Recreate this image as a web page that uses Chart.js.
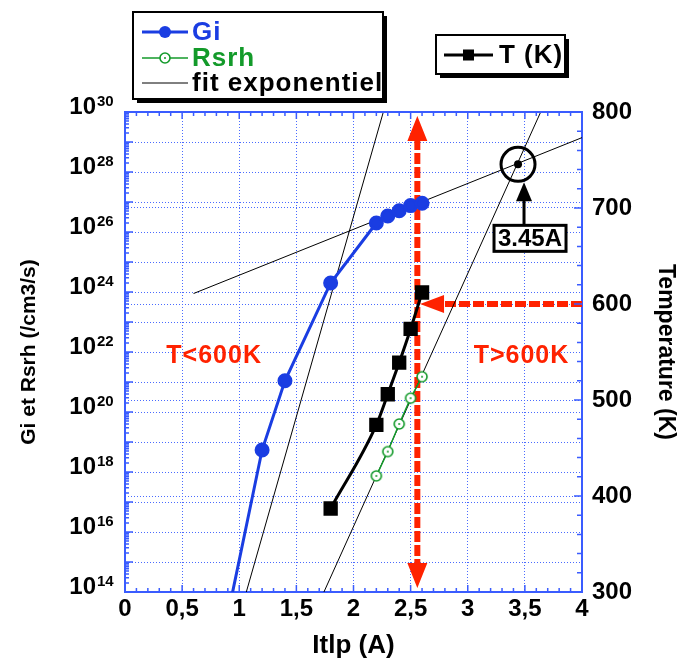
<!DOCTYPE html>
<html>
<head>
<meta charset="utf-8">
<script src="https://cdn.jsdelivr.net/npm/chart.js@4.4.1/dist/chart.umd.min.js"></script>
<style>
  html, body { margin: 0; padding: 0; background: #fff; }
</style>
</head>
<body>
<canvas id="chart" width="681" height="663"></canvas>
<script>
// ── data ─────────────────────────────────────────────────
const giX = [0.8, 1.2, 1.4, 1.8, 2.2, 2.3, 2.4, 2.5, 2.6];
const giY = [2.5e11, 5.4e18, 1.1e21, 2e24, 2e26, 3.4e26, 5.1e26, 7.6e26, 9.1e26];
const rsrhX = [2.2, 2.3, 2.4, 2.5, 2.6];
const rsrhY = [7.4e17, 4.8e18, 4e19, 2.9e20, 1.5e21];
const tempX = [1.8, 2.2, 2.3, 2.4, 2.5, 2.6];
const tempK = [387, 474, 506, 539, 574, 612];

// exponential fits (end points of each straight line on the log axis)
const fitLowX = [1.0, 2.3];
const fitLowY = [1.5e13, 3.3e30];
const fitHighX = [0.6, 4.0];
const fitHighY = [8.9e23, 1.4e29];
const fitRsrhX = [1.7, 3.7];
const fitRsrhY = [4.5e13, 3.3e30];

// annotations
const splitCurrent = 2.55;   // vertical red line
const splitTemp = 600;       // horizontal red arrow (K)
const arrowTipCurrent = 2.6;
const crossCurrent = 3.44;   // intersection of the two fits
const crossValue = 1.8e28;
const crossLabel = '3.45A';
const zoneLow = { x: 0.78, t: 546, text: 'T<600K' };
const zoneHigh = { x: 3.47, t: 546, text: 'T>600K' };

const xTickStep = 0.5;
const yDecades = [14, 15, 16, 17, 18, 19, 20, 21, 22, 23, 24, 25, 26, 27, 28, 29, 30];
const tempTicks = [300, 400, 500, 600, 700, 800];

const FONT = "'Liberation Sans', Arial, sans-serif";
const BLUE = '#1a3de2';
const GREEN = '#139a2a';
const RED = '#ff2200';
const GRID = '#4a6bff';
const FRAME = '#3a5cff';

const pts = (xs, ys) => xs.map((v, i) => ({ x: v, y: ys[i] }));

function ringDot(color) {
    const c = document.createElement('canvas');
    c.width = c.height = 14;
    const g = c.getContext('2d');
    g.fillStyle = '#fff'; g.strokeStyle = color; g.lineWidth = 1.6;
    g.beginPath(); g.arc(7, 7, 5, 0, Math.PI * 2); g.fill(); g.stroke();
    g.fillStyle = color;
    g.beginPath(); g.arc(7, 7, 1, 0, Math.PI * 2); g.fill();
    return c;
}
const rsrhPoint = ringDot(GREEN);

// exponents of the "10" labels on the log axis
const logExponents = {
    id: 'logExponents',
    afterDraw(chart) {
        const { ctx, scales: { y } } = chart;
        const right = y.right - y.options.ticks.padding;
        ctx.save();
        ctx.fillStyle = '#000';
        ctx.font = `bold 15px ${FONT}`;
        ctx.textAlign = 'left'; ctx.textBaseline = 'alphabetic';
        y.ticks.forEach(t => {
            const e = Math.round(Math.log10(t.value));
            if (e % 2) return;
            const py = y.getPixelForValue(t.value) + y.options.ticks.labelOffset;
            ctx.fillText(String(e), right + 1, py - 1);
        });
        ctx.restore();
    }
};

// inward ticks + top frame line
const frameTicks = {
    id: 'frameTicks',
    afterDraw(chart) {
        const { ctx, chartArea: a, scales: { x, y, y2 } } = chart;
        ctx.save();
        ctx.strokeStyle = FRAME;
        ctx.lineWidth = 1.5;
        ctx.beginPath();
        for (let i = 0; i <= 40; i++) {
            const px = x.getPixelForValue(i / 10);
            const len = i % 5 === 0 ? 7 : 4;
            ctx.moveTo(px, a.bottom); ctx.lineTo(px, a.bottom - len);
            ctx.moveTo(px, a.top); ctx.lineTo(px, a.top + len);
        }
        for (let e = 14; e < 30; e++) {
            for (let m = 1; m < 10; m++) {
                const py = y.getPixelForValue(m * Math.pow(10, e));
                ctx.moveTo(a.left, py); ctx.lineTo(a.left + (m === 1 ? 8 : 4), py);
            }
        }
        for (let t = 300; t <= 800; t += 20) {
            const py = y2.getPixelForValue(t);
            ctx.moveTo(a.right, py); ctx.lineTo(a.right - (t % 100 === 0 ? 8 : 5), py);
        }
        ctx.stroke();
        ctx.lineWidth = 2;
        ctx.beginPath(); ctx.moveTo(a.left - 1, a.top); ctx.lineTo(a.right + 1, a.top); ctx.stroke();
        ctx.restore();
    }
};

// red split line, arrow and zone texts
const redMarks = {
    id: 'redMarks',
    beforeDatasetsDraw(chart) {
        const { ctx, chartArea: a, scales: { x, y2 } } = chart;
        const px = x.getPixelForValue(splitCurrent) + 1;
        const py = y2.getPixelForValue(splitTemp);
        const tipX = x.getPixelForValue(arrowTipCurrent) - 2;
        ctx.save();
        ctx.strokeStyle = RED; ctx.fillStyle = RED;
        ctx.lineWidth = 6;
        ctx.setLineDash([11, 3]);
        ctx.beginPath(); ctx.moveTo(px, a.top + 27); ctx.lineTo(px, a.bottom - 26); ctx.stroke();
        ctx.beginPath(); ctx.moveTo(a.right, py); ctx.lineTo(tipX + 22, py); ctx.stroke();
        ctx.setLineDash([]);
        ctx.beginPath();
        ctx.moveTo(px, a.top + 4); ctx.lineTo(px + 10, a.top + 29); ctx.lineTo(px - 10, a.top + 29); ctx.closePath();
        ctx.moveTo(px, a.bottom - 4); ctx.lineTo(px + 10, a.bottom - 29); ctx.lineTo(px - 10, a.bottom - 29); ctx.closePath();
        ctx.moveTo(tipX, py); ctx.lineTo(tipX + 24, py - 9); ctx.lineTo(tipX + 24, py + 9); ctx.closePath();
        ctx.fill();
        ctx.font = `bold 25px ${FONT}`;
        ctx.letterSpacing = '1px';
        ctx.textAlign = 'center'; ctx.textBaseline = 'middle';
        [zoneLow, zoneHigh].forEach(z => ctx.fillText(z.text, x.getPixelForValue(z.x), y2.getPixelForValue(z.t)));
        ctx.restore();
    }
};

// circle on the fit intersection + boxed label
const crossCallout = {
    id: 'crossCallout',
    afterDatasetsDraw(chart) {
        const { ctx, scales: { x, y } } = chart;
        const cx = x.getPixelForValue(crossCurrent);
        const cy = y.getPixelForValue(crossValue);
        ctx.save();
        ctx.strokeStyle = '#000'; ctx.fillStyle = '#000';
        ctx.lineWidth = 3;
        ctx.beginPath(); ctx.arc(cx, cy, 17, 0, Math.PI * 2); ctx.stroke();
        ctx.beginPath(); ctx.arc(cx, cy, 4, 0, Math.PI * 2); ctx.fill();
        const ax = cx + 6;
        ctx.beginPath(); ctx.moveTo(ax, cy + 62); ctx.lineTo(ax, cy + 34); ctx.stroke();
        ctx.beginPath(); ctx.moveTo(ax, cy + 18); ctx.lineTo(ax + 8, cy + 37); ctx.lineTo(ax - 8, cy + 37); ctx.closePath(); ctx.fill();
        const bx = cx + 12, by = cy + 74;
        ctx.fillStyle = '#fff';
        ctx.fillRect(bx - 36, by - 13, 72, 26);
        ctx.strokeRect(bx - 36, by - 13, 72, 26);
        ctx.fillStyle = '#000';
        ctx.font = `bold 24px ${FONT}`;
        ctx.textAlign = 'center'; ctx.textBaseline = 'middle';
        ctx.fillText(crossLabel, bx, by + 1);
        ctx.restore();
    }
};

// framed legends drawn like the original's boxes
const boxLegends = {
    id: 'boxLegends',
    afterDraw(chart) {
        const ctx = chart.ctx;
        const ds = chart.data.datasets;
        const box = (x0, y0, w, h) => {
            ctx.fillStyle = '#000';
            ctx.fillRect(x0 + 4, y0 + 4, w, h);
            ctx.fillStyle = '#fff';
            ctx.fillRect(x0, y0, w, h);
            ctx.strokeStyle = '#000'; ctx.lineWidth = 2;
            ctx.strokeRect(x0, y0, w, h);
        };
        ctx.save();
        box(133, 12, 250, 87);
        box(436, 35, 129, 39);
        ctx.font = `bold 26px ${FONT}`;
        ctx.letterSpacing = '1px';
        ctx.textBaseline = 'middle'; ctx.textAlign = 'left';
        const row = (d, yy, x0, x1, tx) => {
            ctx.strokeStyle = d.borderColor; ctx.lineWidth = d.borderWidth;
            ctx.beginPath(); ctx.moveTo(x0, yy); ctx.lineTo(x1, yy); ctx.stroke();
            const mx = (x0 + x1) / 2;
            if (d.pointStyle === 'circle') {
                ctx.fillStyle = d.pointBackgroundColor;
                ctx.beginPath(); ctx.arc(mx, yy, 6, 0, Math.PI * 2); ctx.fill();
            } else if (d.pointStyle === 'rect') {
                ctx.fillStyle = d.pointBackgroundColor;
                ctx.fillRect(mx - 5.5, yy - 5.5, 11, 11);
            } else if (d.pointStyle instanceof HTMLCanvasElement) {
                ctx.drawImage(d.pointStyle, mx - 7, yy - 7);
            }
            ctx.fillStyle = d.legendColor;
            ctx.fillText(d.label, tx, yy + 1);
        };
        row(ds[0], 32, 142, 188, 192);
        row(ds[1], 58, 142, 188, 192);
        row(ds[3], 83, 142, 188, 192);
        row(ds[2], 55, 444, 493, 499);
        ctx.restore();
    }
};

const fitStyle = { borderColor: '#000', borderWidth: 1, pointRadius: 0, showLine: true, yAxisID: 'y', legendColor: '#000' };

new Chart(document.getElementById('chart'), {
    type: 'scatter',
    data: {
        datasets: [
            { label: 'Gi', data: pts(giX, giY), yAxisID: 'y', showLine: true,
              borderColor: BLUE, borderWidth: 3, pointStyle: 'circle', pointRadius: 6,
              pointBackgroundColor: BLUE, pointBorderColor: BLUE, legendColor: BLUE, order: 1 },
            { label: 'Rsrh', data: pts(rsrhX, rsrhY), yAxisID: 'y', showLine: true,
              borderColor: GREEN, borderWidth: 1.5, pointStyle: rsrhPoint, pointRadius: 6,
              legendColor: GREEN, order: 2 },
            { label: 'T (K)', data: pts(tempX, tempK), yAxisID: 'y2', showLine: true,
              borderColor: '#000', borderWidth: 3, pointStyle: 'rect', pointRadius: 8,
              pointBackgroundColor: '#000', pointBorderColor: '#000', legendColor: '#000',
              cubicInterpolationMode: 'monotone', order: 0 },
            Object.assign({ label: 'fit exponentiel', data: pts(fitLowX, fitLowY), order: 3 }, fitStyle),
            Object.assign({ label: 'fit exponentiel', data: pts(fitHighX, fitHighY), order: 3 }, fitStyle),
            Object.assign({ label: 'fit exponentiel', data: pts(fitRsrhX, fitRsrhY), order: 3 }, fitStyle)
        ]
    },
    options: {
        responsive: false,
        animation: false,
        layout: { padding: { top: 112, left: 0, right: 0, bottom: 0 } },
        plugins: { legend: { display: false }, tooltip: { enabled: false } },
        scales: {
            x: {
                type: 'linear', min: 0, max: 4, position: 'bottom',
                ticks: { stepSize: xTickStep, color: '#000', padding: 3, maxRotation: 0,
                         font: { family: FONT, size: 24, weight: 'bold' },
                         callback: v => String(v).replace('.', ',') },
                grid: { color: GRID, lineWidth: 1, drawTicks: false },
                border: { color: FRAME, width: 2, dash: [1, 2] },
                title: { display: true, text: 'Itlp (A)', color: '#000', padding: { top: 0, bottom: 2 },
                         font: { family: FONT, size: 26, weight: 'bold' } },
                afterFit: s => { s.height = 71; }
            },
            y: {
                type: 'logarithmic', min: 1e14, max: 1e30, position: 'left',
                afterBuildTicks: s => { s.ticks = yDecades.map(e => ({ value: Math.pow(10, e) })); },
                ticks: { autoSkip: false, color: '#000', padding: 29, labelOffset: -5,
                         font: { family: FONT, size: 24, weight: 'bold' },
                         callback: v => (Math.round(Math.log10(v)) % 2 ? '' : '10') },
                grid: { color: GRID, lineWidth: 1, drawTicks: false },
                border: { color: FRAME, width: 2, dash: [1, 2] },
                title: { display: true, text: 'Gi et Rsrh (/cm3/s)', color: '#000', padding: { top: 17, bottom: 0 },
                         font: { family: FONT, size: 21, weight: 'bold' } },
                afterFit: s => { s.width = 125; }
            },
            y2: {
                type: 'linear', min: 300, max: 800, position: 'right',
                afterBuildTicks: s => { s.ticks = tempTicks.map(v => ({ value: v })); },
                ticks: { color: '#000', padding: 10, font: { family: FONT, size: 24, weight: 'bold' } },
                grid: { color: GRID, lineWidth: 1, drawTicks: false },
                border: { color: FRAME, width: 2, dash: [1, 2] },
                title: { display: true, text: 'Temperature (K)', color: '#000', padding: { top: 2, bottom: 0 },
                         font: { family: FONT, size: 23, weight: 'bold' } },
                afterFit: s => { s.width = 99; }
            }
        }
    },
    plugins: [redMarks, crossCallout, frameTicks, logExponents, boxLegends]
});
</script>
</body>
</html>
